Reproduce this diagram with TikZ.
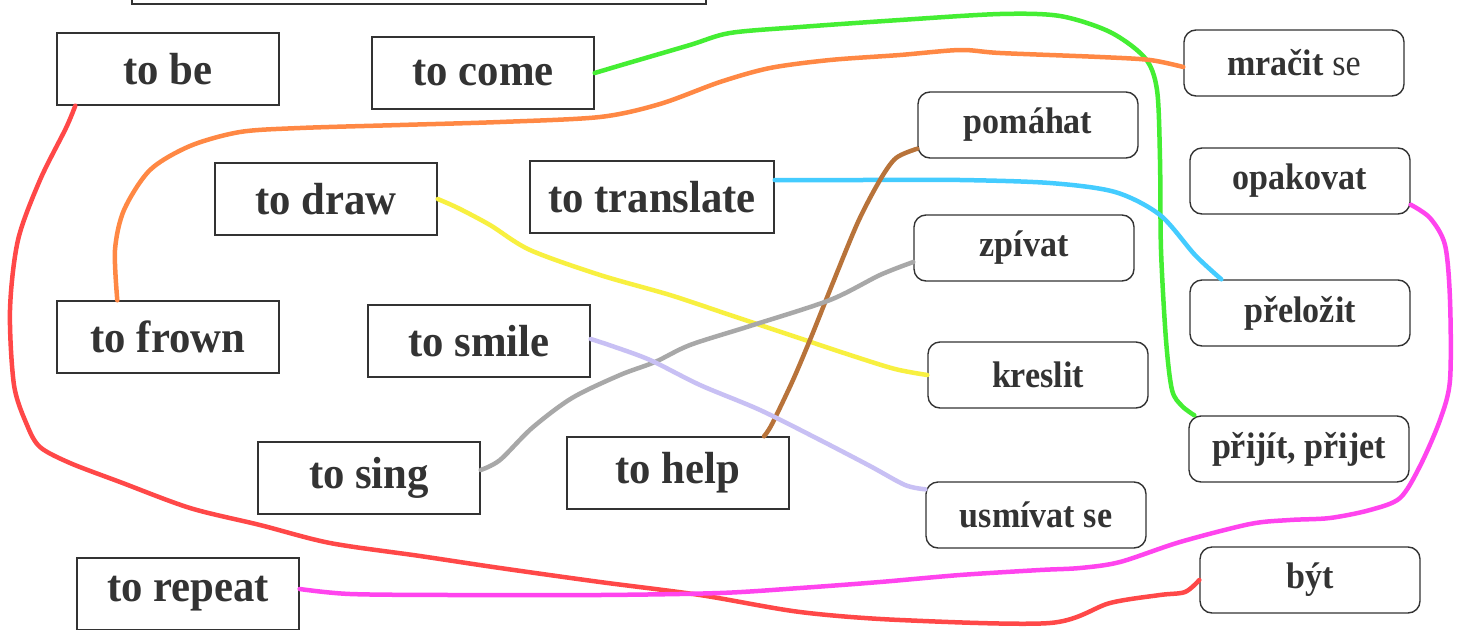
\documentclass[tikz,border=0pt]{standalone}
\usepackage{fontspec}
\usetikzlibrary{calc}
\setmainfont{Liberation Serif}
\newfontfamily\lftfont[FakeStretch=0.95]{Liberation Serif}
\newfontfamily\rgtfont[FakeStretch=0.92]{Liberation Serif}
\definecolor{ink}{HTML}{333333}
\definecolor{cred}{HTML}{FF4848}
\definecolor{cgreen}{HTML}{44EE33}
\definecolor{corange}{HTML}{FF8844}
\definecolor{cyellow}{HTML}{F8F040}
\definecolor{cblue}{HTML}{44CCFF}
\definecolor{cbrown}{HTML}{B8733A}
\definecolor{cgray}{HTML}{A8A8A8}
\definecolor{clav}{HTML}{C8C0F4}
\definecolor{cmag}{HTML}{FF44EE}
\begin{document}
\begin{tikzpicture}[x=1pt,y=-1pt,
  enbox/.style={draw=ink, line width=1.4pt, text=ink, minimum width=222pt, minimum height=72pt,
    inner sep=0pt, font=\lftfont\bfseries\fontsize{45}{50}\selectfont},
  czbox/.style={draw=ink, line width=1.4pt, rounded corners=12pt, text=ink, minimum width=220pt, minimum height=66pt,
    inner sep=0pt, font=\rgtfont\bfseries\fontsize{37}{42}\selectfont},
  link/.style={line width=4.5pt, line cap=round, line join=round}]
\useasboundingbox (0,0) rectangle (1471,629);
\fill[white] (0,0) rectangle (1471,629);
% partial box at top
\node[draw=ink, line width=1.4pt, minimum width=574pt, minimum height=30pt, inner sep=0pt] (topbox) at (419,-11) {};
% English boxes
\node[enbox] (tobe) at (168,69) {to be};
\node[enbox] (tocome) at (483,73) {to come};
\node[enbox] (todraw) at (326,199) {to draw};
\node[enbox, minimum width=244pt] (totranslate) at (652,197) {to translate};
\node[enbox] (tofrown) at (168,337) {to frown};
\node[enbox] (tosmile) at (479,341) {to smile};
\node[enbox] (tosing) at (369,478) {to sing};
\node[enbox] (tohelp) at (678,473) {to help};
\node[enbox] (torepeat) at (188,594) {to repeat};
% Czech boxes
\node[czbox] (mracit) at (1294,63) {mračit {\mdseries se}};
\node[czbox] (pomahat) at (1028,125) {pomáhat};
\node[czbox] (opakovat) at (1300,181) {opakovat};
\node[czbox] (zpivat) at (1024,248) {zpívat};
\node[czbox] (prelozit) at (1300,313) {přeložit};
\node[czbox] (kreslit) at (1038,375) {kreslit};
\node[czbox] (prijit) at (1299,449) {přijít, přijet};
\node[czbox] (usmivat) at (1036,515) {usmívat se};
\node[czbox] (byt) at (1310,580) {být};
% connectors
\draw[link, cred] plot[smooth, tension=0.5] coordinates {($(tobe.south west)+(19,0)$) (66,128) (40,180) (18,240) (10,310) (14,385) (27,425) (40,447) (70,463) (120,482) (190,508) (260,525) (330,543) (420,556) (500,568) (600,582) (700,595) (800,612) (900,620) (1050,623) (1110,603) (1160,595) (1185,592) (byt.west)};
\draw[link, cgreen] plot[smooth, tension=0.5] coordinates {(tocome.east) (625,64) (690,45) (730,33) (800,27) (900,20) (1000,14) (1060,16) (1110,32) (1145,58) (1157,90) (1160,160) (1161,250) (1166,340) (1172,390) (1182,406) ($(prijit.north west)+(6,0)$)};
\draw[link, corange] plot[smooth, tension=0.5] coordinates {($(mracit.west)+(0,4)$) (1150,60) (1100,57) (1000,53) (960,50) (900,55) (830,60) (770,68) (720,82) (660,104) (600,117) (500,122) (400,125) (300,128) (240,132) (190,146) (150,170) (124,210) (115,250) ($(tofrown.north west)+(61,0)$)};
\draw[link, cyellow] plot[smooth, tension=0.5] coordinates {(todraw.east) (458,208) (490,225) (530,250) (600,275) (670,295) (730,315) (790,335) (850,355) (895,369) (kreslit.west)};
\draw[link, cblue] plot[smooth, tension=0.5] coordinates {($(totranslate.east)+(0,-17)$) (860,180) (960,180) (1050,183) (1115,192) (1160,215) (1195,255) ($(prelozit.north west)+(32,0)$)};
\draw[link, cbrown] plot[smooth, tension=0.5] coordinates {($(tohelp.north)+(86,0)$) (772,424) (793,380) (812,335) (832,285) (858,222) (880,180) (896,158) ($(pomahat.south west)+(0,-10)$)};
\draw[link, cgray] plot[smooth, tension=0.5] coordinates {($(tosing.east)+(0,-8)$) (500,460) (532,428) (572,398) (620,375) (655,362) (690,345) (750,326) (830,300) (880,275) ($(zpivat.west)+(0,14)$)};
\draw[link, clav] plot[smooth, tension=0.5] coordinates {($(tosmile.east)+(0,-2)$) (612,346) (650,360) (700,385) (760,410) (820,440) (870,466) (905,485) ($(usmivat.north west)+(0,8)$)};
\draw[link, cmag] plot[smooth, tension=0.5] coordinates {($(opakovat.south east)+(0,-10)$) (1430,218) (1445,245) (1450,300) (1450,380) (1440,420) (1420,466) (1400,498) (1370,510) (1330,518) (1290,520) (1250,524) (1180,542) (1120,562) (1080,568) (1040,570) (960,575) (880,582) (800,588) (720,593) (600,595) (450,595) (350,594) ($(torepeat.east)+(0,-5)$)};
\end{tikzpicture}
\end{document}
